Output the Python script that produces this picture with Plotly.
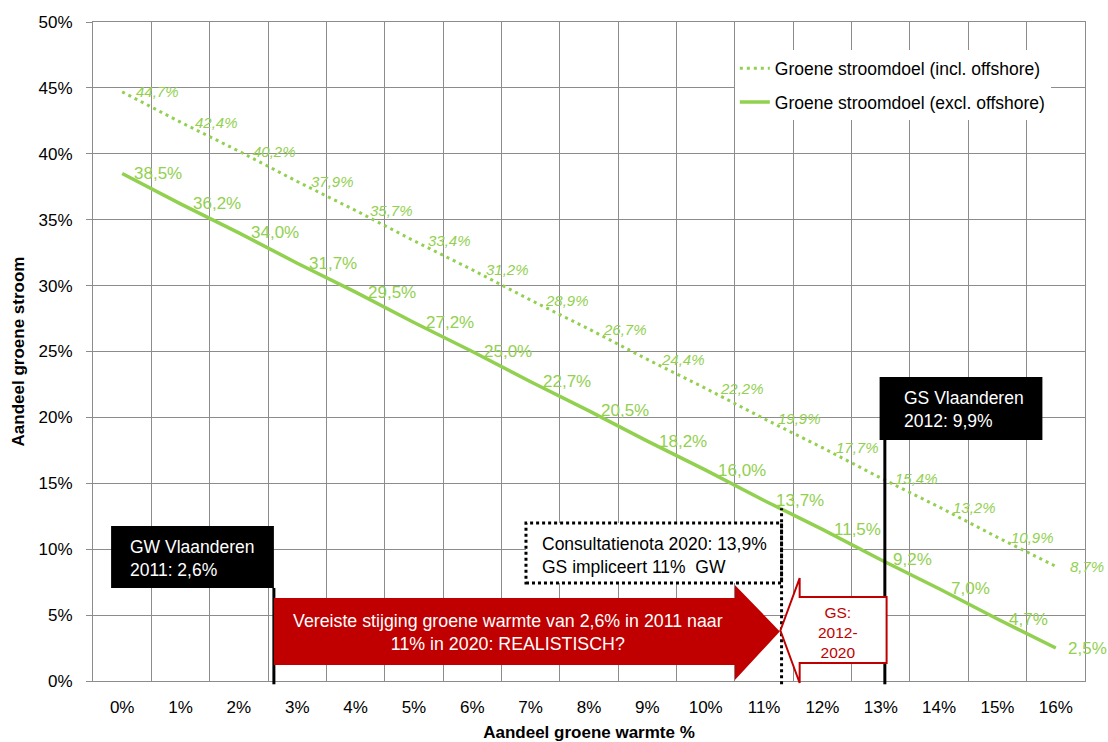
import plotly.graph_objects as go

# Aandeel groene warmte (%) en bijhorend groen stroomdoel (%)
warmte = list(range(17))
stroom_incl = [44.7, 42.4, 40.2, 37.9, 35.7, 33.4, 31.2, 28.9, 26.7,
               24.4, 22.2, 19.9, 17.7, 15.4, 13.2, 10.9, 8.7]
stroom_excl = [38.5, 36.2, 34.0, 31.7, 29.5, 27.2, 25.0, 22.7, 20.5,
               18.2, 16.0, 13.7, 11.5, 9.2, 7.0, 4.7, 2.5]
x_ticktext = [f"{v}%" for v in warmte]
y_tickvals = [0, 5, 10, 15, 20, 25, 30, 35, 40, 45, 50]
y_ticktext = [f"{v}%" for v in y_tickvals]

# Referentiepunten
gw_2011 = 2.6        # groene warmte Vlaanderen 2011
gs_2012_x = 13.07    # markering GS Vlaanderen 2012
consult_x = 11.3     # GS-doel consultatienota 2020 -> groene warmte

FONT = "Liberation Sans, Arial, sans-serif"
GREEN = "#92D050"
GRID = "#8C8C8C"
RED = "#C00000"
Y_MAX = 50.0
FS = 17.5


def yp(v):
    """Data value on the y axis -> paper coordinate."""
    return v / Y_MAX


def pct(v):
    return f"{v:.1f}".replace(".", ",") + "%"


fig = go.Figure()
fig.add_trace(go.Scatter(
    x=warmte, y=stroom_incl, mode="lines",
    name="Groene stroomdoel (incl. offshore)", legendgroup="incl",
    line=dict(color=GREEN, width=3, dash="3px,4px"),
))
fig.add_trace(go.Scatter(
    x=warmte, y=stroom_excl, mode="lines",
    name="Groene stroomdoel (excl. offshore)", legendgroup="excl",
    line=dict(color=GREEN, width=3.5),
))

annotations = []
for x, y in zip(warmte, stroom_incl):
    annotations.append(dict(
        x=x, y=y, xref="x", yref="y", text=pct(y), showarrow=False,
        xanchor="left", yanchor="middle", xshift=12,
        font=dict(family=FONT, size=15, color=GREEN, style="italic"),
    ))
for x, y in zip(warmte, stroom_excl):
    annotations.append(dict(
        x=x, y=y, xref="x", yref="y", text=pct(y), showarrow=False,
        xanchor="left", yanchor="middle", xshift=10,
        font=dict(family=FONT, size=17, color=GREEN),
    ))

shapes = []
# GW Vlaanderen 2011
shapes.append(dict(type="rect", xref="x", yref="paper",
                   x0=-0.19, x1=gw_2011, y0=yp(7.06), y1=yp(11.76),
                   fillcolor="black", line=dict(width=0), layer="above"))
shapes.append(dict(type="line", xref="x", yref="paper",
                   x0=gw_2011, x1=gw_2011, y0=-0.005, y1=yp(7.06),
                   line=dict(color="black", width=3), layer="above"))
annotations.append(dict(
    x=0.1, y=9.33, xref="x", yref="y", text="GW Vlaanderen<br>2011: 2,6%",
    showarrow=False, xanchor="left", yanchor="middle", align="left",
    font=dict(family=FONT, size=FS, color="white"),
))

# GS Vlaanderen 2012
shapes.append(dict(type="rect", xref="x", yref="paper",
                   x0=12.98, x1=15.77, y0=yp(18.29), y1=yp(23.07),
                   fillcolor="black", line=dict(width=0), layer="above"))
shapes.append(dict(type="line", xref="x", yref="paper",
                   x0=gs_2012_x, x1=gs_2012_x, y0=-0.005, y1=yp(18.29),
                   line=dict(color="black", width=3), layer="above"))
annotations.append(dict(
    x=13.36, y=20.6, xref="x", yref="y", text="GS Vlaanderen<br>2012: 9,9%",
    showarrow=False, xanchor="left", yanchor="middle", align="left",
    font=dict(family=FONT, size=FS, color="white"),
))

# Consultatienota
shapes.append(dict(type="rect", xref="x", yref="paper",
                   x0=6.92, x1=consult_x, y0=yp(7.44), y1=yp(11.99),
                   fillcolor="white",
                   line=dict(color="black", width=3, dash="3px,3px"),
                   layer="above"))
shapes.append(dict(type="line", xref="x", yref="paper",
                   x0=consult_x, x1=consult_x, y0=-0.005, y1=yp(13.1),
                   line=dict(color="black", width=3, dash="3px,3px"),
                   layer="above"))
annotations.append(dict(
    x=7.16, y=9.56, xref="x", yref="y",
    text="Consultatienota 2020: 13,9%<br>GS impliceert 11%\u00a0 GW",
    showarrow=False, xanchor="left", yanchor="middle", align="left",
    font=dict(family=FONT, size=FS, color="black"),
))

# Rode pijl: vereiste stijging groene warmte
body_top, body_bot = yp(6.30), yp(1.21)
head_top, head_bot = yp(7.28), yp(0.08)
tip_y = yp(3.76)
red_path = (f"M {gw_2011},{body_top} L 10.5,{body_top} L 10.5,{head_top} "
            f"L 11.27,{tip_y} L 10.5,{head_bot} L 10.5,{body_bot} "
            f"L {gw_2011},{body_bot} Z")
shapes.append(dict(type="path", xref="x", yref="paper", path=red_path,
                   fillcolor=RED, line=dict(width=0), layer="above"))
annotations.append(dict(
    x=6.61, y=3.68, xref="x", yref="y",
    text="Vereiste stijging groene warmte van 2,6% in 2011 naar<br>11% in 2020: REALISTISCH?",
    showarrow=False, xanchor="center", yanchor="middle", align="center",
    font=dict(family=FONT, size=17.8, color="white"),
))

# Witte pijl: GS 2012-2020
w_body_top, w_body_bot = yp(6.37), yp(1.37)
w_head_top, w_head_bot = yp(7.81), yp(-0.15)
w_tip_y = yp(3.83)
white_path = (f"M 11.28,{w_tip_y} L 11.61,{w_head_top} L 11.61,{w_body_top} "
              f"L 13.1,{w_body_top} L 13.1,{w_body_bot} L 11.61,{w_body_bot} "
              f"L 11.61,{w_head_bot} Z")
shapes.append(dict(type="path", xref="x", yref="paper", path=white_path,
                   fillcolor="white", line=dict(color=RED, width=2),
                   layer="above"))
annotations.append(dict(
    x=12.26, y=3.7, xref="x", yref="y", text="GS:<br>2012-<br>2020",
    showarrow=False, xanchor="center", yanchor="middle", align="center",
    font=dict(family=FONT, size=15.5, color=RED),
))

fig.update_layout(
    width=1108, height=742,
    margin=dict(l=93, r=23, t=22, b=61, autoexpand=False),
    paper_bgcolor="white", plot_bgcolor="white",
    font=dict(family=FONT, size=FS, color="black"),
    showlegend=True,
    legend=dict(
        x=0.647, y=0.957, xanchor="left", yanchor="top",
        bgcolor="white", borderwidth=0,
        font=dict(family=FONT, size=FS, color="black"),
        itemwidth=30, tracegroupgap=8,
    ),
    shapes=shapes,
    annotations=annotations,
)
fig.update_xaxes(
    range=[-0.5, 16.5], automargin=False,
    tickvals=warmte, ticktext=x_ticktext,
    showgrid=False, zeroline=False,
    minor=dict(tickvals=[i - 0.5 for i in range(18)], showgrid=True,
               gridcolor=GRID, gridwidth=1, ticks=""),
    showline=True, linecolor=GRID, linewidth=1, mirror=True,
    ticks="outside", ticklen=11, tickcolor="rgba(0,0,0,0)",
    tickfont=dict(family=FONT, size=17, color="black"),
    title=dict(text="<b>Aandeel groene warmte %</b>",
               font=dict(family=FONT, size=17, color="black"), standoff=12),
)
fig.update_yaxes(
    range=[0, Y_MAX], automargin=False,
    tickvals=y_tickvals, ticktext=y_ticktext,
    showgrid=True, gridcolor=GRID, gridwidth=1, zeroline=False,
    showline=True, linecolor=GRID, linewidth=1, mirror=True,
    ticks="outside", ticklen=6, tickcolor=GRID,
    ticklabelstandoff=10,
    tickfont=dict(family=FONT, size=17, color="black"),
    title=dict(text="<b>Aandeel groene stroom</b>",
               font=dict(family=FONT, size=17, color="black"), standoff=9),
)

fig.write_html("out.html")
